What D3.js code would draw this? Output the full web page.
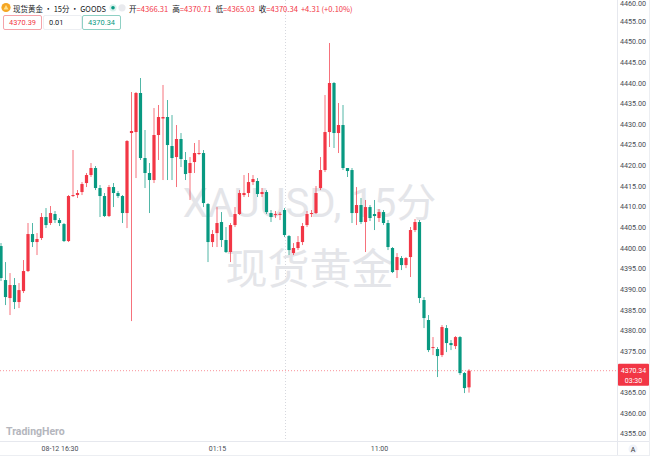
<!DOCTYPE html>
<html><head><meta charset="utf-8">
<script src="https://cdn.jsdelivr.net/npm/d3@7"></script>
<style>
html,body{margin:0;padding:0;background:#fff;}
svg{display:block;font-family:Roboto,"Noto Sans CJK SC",sans-serif;}
</style></head><body>
<svg id="c" width="650" height="456"></svg>
<script>
// ---- data (15-minute XAUUSD candles) ----
const opens = [4400.55,4392.31,4387.95,4391.10,4386.98,4389.64,4394.49,4403.46,4401.52,4402.49,
4407.58,4406.13,4408.31,4406.85,4405.88,4401.76,4412.67,4412.91,4413.64,4415.82,
4417.76,4419.46,4414.61,4412.67,4407.82,4414.85,4413.40,4412.67,4408.55,4427.94,
4428.18,4437.64,4421.88,4418.25,4416.55,4427.46,4431.46,4431.82,4424.79,4422.12,
4426.49,4421.40,4418.25,4420.91,4422.90,4423.09,4410.73,4401.52,4403.70,4406.37,
4402.01,4399.10,4405.64,4408.31,4412.91,4413.40,4416.06,4416.31,4413.16,4413.64,
4408.55,4408.20,4408.20,4409.28,4402.97,4398.85,4400.07,4401.52,4405.64,4408.31,
4408.55,4414.61,4418.97,4428.18,4440.06,4427.94,4429.88,4419.46,4418.97,4408.55,
4410.49,4406.37,4410.00,4408.31,4407.34,4408.79,4406.13,4400.07,4394.73,4397.64,
4395.94,4397.88,4404.43,4406.37,4387.47,4382.62,4375.83,4375.59,4374.13,4380.67,
4377.04,4376.31,4378.49,4369.77,4366.31];
const highs = [4401.28,4396.67,4394.00,4392.80,4391.58,4397.16,4406.13,4406.13,4403.70,4408.55,
4409.76,4410.25,4409.03,4407.34,4406.13,4412.91,4423.82,4414.12,4416.06,4418.25,
4420.67,4419.94,4415.34,4413.40,4415.34,4415.82,4413.88,4412.91,4426.24,4437.88,
4437.88,4441.27,4428.67,4420.67,4434.00,4434.73,4439.58,4435.94,4432.30,4429.88,
4427.94,4423.34,4422.12,4425.52,4426.25,4423.82,4410.97,4404.43,4410.00,4408.79,
4405.16,4406.13,4410.00,4414.12,4417.76,4418.25,4417.76,4417.03,4414.61,4414.12,
4409.28,4409.03,4408.80,4409.76,4403.22,4401.28,4402.97,4406.13,4409.03,4409.28,
4415.10,4422.12,4437.15,4449.76,4440.30,4435.21,4434.73,4419.46,4419.46,4414.85,
4412.19,4411.71,4410.49,4411.71,4409.52,4409.28,4406.86,4400.31,4398.85,4398.13,
4397.88,4405.16,4407.10,4406.86,4388.19,4383.83,4378.49,4376.07,4381.40,4381.40,
4377.77,4378.73,4378.73,4370.01,4370.71];
const lows = [4392.07,4386.25,4383.83,4385.28,4385.52,4389.16,4394.25,4400.31,4398.37,4402.01,
4404.91,4405.64,4406.13,4405.40,4401.52,4401.52,4412.43,4412.19,4412.91,4414.85,
4417.28,4414.12,4407.58,4407.58,4407.58,4410.00,4412.19,4406.13,4404.91,4382.37,
4417.03,4421.40,4414.61,4408.55,4415.82,4421.40,4416.55,4416.55,4416.55,4414.85,
4419.70,4416.55,4411.71,4418.25,4422.61,4410.00,4396.67,4400.31,4400.31,4400.31,
4398.86,4396.67,4405.16,4408.07,4412.43,4412.43,4415.34,4412.43,4412.43,4408.31,
4406.37,4407.34,4406.85,4402.73,4398.37,4398.37,4399.58,4400.79,4405.16,4407.58,
4408.31,4414.12,4418.49,4424.55,4424.31,4423.09,4418.97,4417.28,4406.13,4405.64,
4405.88,4399.10,4406.61,4404.43,4406.37,4405.64,4399.58,4394.00,4392.80,4394.73,
4395.20,4393.04,4403.94,4386.73,4380.67,4374.85,4374.13,4368.80,4373.65,4374.85,
4375.34,4375.59,4369.28,4364.92,4365.03];
const closes = [4392.80,4388.19,4391.10,4386.98,4389.88,4394.49,4403.46,4401.52,4402.25,4407.58,
4405.64,4408.55,4406.85,4406.13,4401.76,4412.67,4412.91,4413.40,4415.58,4417.76,
4419.46,4414.61,4412.67,4407.82,4414.85,4413.40,4412.67,4408.55,4426.00,4428.43,
4437.64,4421.88,4418.25,4416.55,4427.46,4431.82,4431.82,4425.03,4421.88,4426.49,
4421.64,4418.00,4420.67,4423.09,4423.10,4410.97,4401.52,4403.46,4406.13,4402.01,
4399.10,4405.64,4408.31,4413.40,4413.40,4416.06,4416.79,4413.16,4413.64,4408.79,
4407.58,4408.30,4408.35,4403.22,4399.58,4400.07,4401.52,4405.40,4408.31,4408.55,
4413.40,4418.97,4428.18,4440.06,4427.94,4429.88,4419.46,4418.73,4408.55,4410.49,
4406.37,4410.00,4407.34,4407.82,4408.79,4406.13,4400.31,4394.25,4397.88,4395.94,
4397.64,4404.43,4406.37,4387.95,4383.10,4375.34,4376.07,4373.89,4380.92,4377.04,
4376.55,4378.49,4369.77,4366.13,4370.34];
const priceTicks = [4355,4360,4365,4370,4375,4380,4385,4390,4395,4400,4405,4410,4415,4420,4425,4430,4435,4440,4445,4450,4455,4460];
const timeLabels = ["08-12 16:30","01:15","11:00"];
const timeLabelIndex = [13,48,84];
const sessionBreakIndex = [63];
const lastPrice = 4370.34;
const countdown = "03:30";
const headerTitle = "现货黄金 · 15分 · GOODS";
const ohlcNames = ["开","高","低","收"];
const ohlcValues = ["4366.31","4370.71","4365.03","4370.34"];
const changeText = "+4.31 (+0.10%)";
const quoteBoxes = ["4370.39","0.01","4370.34"];
const watermark = ["XAUUSD, 15分","现货黄金"];

// ---- layout ----
const W = 650, H = 456, paneR = 617, paneB = 441;
const UP = "#f23645", DOWN = "#089981";
const svg = d3.select("#c");
const data = opens.map((o,i)=>({i, o, h:highs[i], l:lows[i], c:closes[i]}));

const x = d3.scaleLinear().domain([0, 104]).range([1, 469]);
const y = d3.scaleLinear().domain([4355, 4450]).range([434, 42]);

svg.append("rect").attr("width",W).attr("height",H).attr("fill","#fff");

const pane = svg.append("g");
pane.append("clipPath").attr("id","pc").append("rect").attr("width",paneR).attr("height",paneB);
const pg = pane.append("g").attr("clip-path","url(#pc)");

// session break
pg.selectAll("line.sb").data(sessionBreakIndex).join("line")
  .attr("x1",d=>Math.round(x(d))+0.5).attr("x2",d=>Math.round(x(d))+0.5)
  .attr("y1",0).attr("y2",paneB).attr("stroke","#d6d8de").attr("stroke-dasharray","1,2");

// watermark
pg.append("text").attr("x",paneR/2+1).attr("y",203).attr("text-anchor","middle")
  .attr("dominant-baseline","central").attr("font-size",40).attr("fill","#e4e5e9")
  .text(watermark[0]);
pg.append("text").attr("x",paneR/2+1).attr("y",265).attr("text-anchor","middle")
  .attr("dominant-baseline","central").attr("font-size",42).attr("fill","#e4e5e9")
  .attr("font-family","'Noto Sans CJK SC'").text(watermark[1]);

// price line
pg.append("line").attr("x1",0).attr("x2",paneR).attr("y1",y(lastPrice)).attr("y2",y(lastPrice))
  .attr("stroke",UP).attr("stroke-opacity",0.55).attr("stroke-dasharray","1,2");

// candles
const cg = pg.selectAll("g.cd").data(data).join("g");
cg.append("line").attr("x1",d=>x(d.i)).attr("x2",d=>x(d.i))
  .attr("y1",d=>y(d.h)).attr("y2",d=>y(d.l))
  .attr("stroke",d=>d.c>=d.o?UP:DOWN).attr("stroke-width",1).attr("stroke-opacity",0.7);
cg.append("rect").attr("x",d=>x(d.i)-1.6).attr("width",3.2)
  .attr("y",d=>y(Math.max(d.o,d.c)))
  .attr("height",d=>Math.max(1,Math.abs(y(d.o)-y(d.c))))
  .attr("fill",d=>d.c>=d.o?UP:DOWN);

// axes borders
svg.append("line").attr("x1",paneR+0.5).attr("x2",paneR+0.5).attr("y1",0).attr("y2",H).attr("stroke","#e6e8ee");
svg.append("line").attr("x1",0).attr("x2",W).attr("y1",paneB+0.5).attr("y2",paneB+0.5).attr("stroke","#e6e8ee");
svg.append("line").attr("x1",0).attr("x2",W).attr("y1",H-0.5).attr("y2",H-0.5).attr("stroke","#eceef2");
svg.append("line").attr("x1",W-0.5).attr("x2",W-0.5).attr("y1",0).attr("y2",H).attr("stroke","#eceef2");

// price axis (the tick hidden under the last-price label is skipped)
const ly = y(lastPrice);
const shownTicks = priceTicks.filter(v => Math.abs(y(v) - (ly + 4)) > 12);
const yAxis = d3.axisRight(y).tickValues(shownTicks).tickSize(0).tickPadding(0).tickFormat(d3.format(".2f"));
const ya = svg.append("g").attr("transform",`translate(${paneR+16},0)`).call(yAxis);
ya.select(".domain").remove();
ya.selectAll(".tick").attr("transform", d => `translate(0,${Math.max(4, y(d))})`);
ya.selectAll("text").attr("text-anchor","middle").attr("font-size",7.2).attr("fill","#4a4d55")
  .attr("font-family","Roboto,sans-serif");

// last price label
svg.append("rect").attr("x",paneR+1).attr("y",ly-7).attr("width",W-paneR-2).attr("height",22)
  .attr("fill",UP).attr("rx",1);
svg.append("text").attr("x",(paneR+W)/2).attr("y",ly).attr("text-anchor","middle")
  .attr("dominant-baseline","central").attr("font-size",7).attr("fill","#fff").text(lastPrice.toFixed(2));
svg.append("text").attr("x",(paneR+W)/2).attr("y",ly+10).attr("text-anchor","middle")
  .attr("dominant-baseline","central").attr("font-size",7).attr("fill","#fff").text(countdown);

// time axis
const xAxis = d3.axisBottom(x).tickValues(timeLabelIndex).tickSize(0).tickPadding(0)
  .tickFormat((d,k)=>timeLabels[k]);
const xa = svg.append("g").attr("transform",`translate(0,${paneB+5})`).call(xAxis);
xa.select(".domain").remove();
xa.selectAll("text").attr("font-size",7).attr("fill","#4a4d55").attr("font-family","Roboto,sans-serif");

// "A" button
svg.append("circle").attr("cx",633).attr("cy",449).attr("r",4.5).attr("fill","#f0f3fa");
svg.append("text").attr("x",633).attr("y",449.5).attr("text-anchor","middle").attr("dominant-baseline","central")
  .attr("font-size",7).attr("fill","#333").text("A");

// logo text
svg.append("text").attr("x",6).attr("y",435).attr("font-size",10.5).attr("font-weight",700)
  .attr("fill","#b4b6bd").attr("font-family","Roboto,sans-serif").text("TradingHero");

// header
const hd = svg.append("g");
hd.append("circle").attr("cx",6).attr("cy",7.5).attr("r",4.6).attr("fill","#f5a623");
hd.append("path").attr("d","M3.5,9.5 L6,5 L8.5,9.5 Z").attr("fill","#ffe08a");
const title = hd.append("text").attr("x",13).attr("y",8).attr("dominant-baseline","central").attr("font-size",8.2)
  .attr("fill","#131722").attr("font-family","'Noto Sans CJK SC',sans-serif").text(headerTitle);
const tw = title.node().getComputedTextLength();
if (tw > 93) title.attr("textLength",93).attr("lengthAdjust","spacingAndGlyphs");
hd.append("circle").attr("cx",113).attr("cy",7.8).attr("r",3.6).attr("fill","#d9f1ec");
hd.append("circle").attr("cx",113).attr("cy",7.8).attr("r",1.8).attr("fill","#089981");
hd.append("circle").attr("cx",122).attr("cy",7.8).attr("r",3.6).attr("fill","#e9eaee");
const ohlc = hd.append("text").attr("x",129).attr("y",8).attr("dominant-baseline","central")
  .attr("font-size",7.6).attr("font-family","'Noto Sans CJK SC',sans-serif");
ohlcNames.forEach((n,k)=>{
  ohlc.append("tspan").attr("fill","#131722").attr("dx",k?4:0).text(n);
  ohlc.append("tspan").attr("fill",UP).text("="+ohlcValues[k]);
});
ohlc.append("tspan").attr("fill",UP).attr("dx",3).text(changeText);
const ow = ohlc.node().getComputedTextLength();
if (ow > 220) ohlc.attr("textLength",220).attr("lengthAdjust","spacingAndGlyphs");

// quote boxes
const boxX = [3, 43, 82], boxW = 38;
const boxStroke = ["#f5a3aa","#eceef2","#8fd0c4"], boxText = [UP,"#131722",DOWN];
quoteBoxes.forEach((t,k)=>{
  hd.append("rect").attr("x",boxX[k]+0.5).attr("y",15.5).attr("width",boxW).attr("height",14)
    .attr("rx",1.5).attr("fill","#fff").attr("stroke",boxStroke[k]);
  hd.append("text").attr("x",boxX[k]+ (k===1?6:boxW/2+0.5)).attr("y",22.8)
    .attr("text-anchor",k===1?"start":"middle").attr("dominant-baseline","central")
    .attr("font-size",7.4).attr("fill",boxText[k]).attr("font-family","Roboto,sans-serif").text(t);
});
</script>
</body></html>
